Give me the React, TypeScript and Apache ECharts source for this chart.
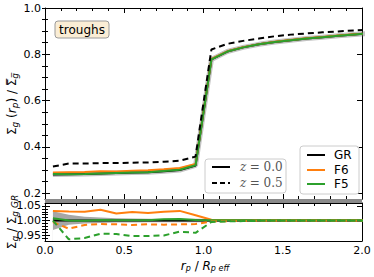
import React, { useEffect, useRef } from "react";
import * as echarts from "echarts";

const xs = [0.05, 0.15, 0.25, 0.35, 0.45, 0.55, 0.65, 0.75, 0.85, 0.95, 1.05, 1.15, 1.25, 1.35, 1.45, 1.55, 1.65, 1.75, 1.85, 1.95, 2.05];

// top panel: Sigma_g(r_p)/mean Sigma_g
const grZ0 = [0.281, 0.282, 0.283, 0.285, 0.287, 0.289, 0.291, 0.295, 0.300, 0.320, 0.778, 0.812, 0.830, 0.843, 0.853, 0.861, 0.868, 0.874, 0.880, 0.886, 0.890];
const f6Z0 = [0.290, 0.291, 0.292, 0.295, 0.294, 0.297, 0.299, 0.303, 0.309, 0.326, 0.780, 0.813, 0.831, 0.844, 0.854, 0.862, 0.869, 0.875, 0.881, 0.887, 0.891];
const f5Z0 = [0.283, 0.282, 0.283, 0.285, 0.287, 0.289, 0.291, 0.296, 0.301, 0.321, 0.778, 0.812, 0.830, 0.843, 0.853, 0.861, 0.868, 0.874, 0.880, 0.886, 0.890];
const grZ05 = [0.315, 0.328, 0.328, 0.330, 0.330, 0.332, 0.333, 0.336, 0.340, 0.358, 0.821, 0.845, 0.858, 0.868, 0.878, 0.885, 0.890, 0.895, 0.899, 0.903, 0.906];

// bottom panel: ratio to GR
const grRatio = [1, 1, 1, 1, 1, 1, 1, 1, 1, 1, 1, 1, 1, 1, 1, 1, 1, 1, 1, 1, 1];
const grBandLow = [0.968, 0.986, 0.990, 0.992, 0.993, 0.993, 0.994, 0.994, 0.994, 0.994, 0.995, 0.995, 0.995, 0.995, 0.995, 0.995, 0.995, 0.995, 0.995, 0.995, 0.995];
const grBandHigh = [1.032, 1.020, 1.013, 1.010, 1.008, 1.007, 1.006, 1.006, 1.006, 1.006, 1.005, 1.005, 1.005, 1.005, 1.005, 1.005, 1.005, 1.005, 1.005, 1.005, 1.005];
const f6RatioZ0 = [1.033, 1.031, 1.030, 1.037, 1.024, 1.029, 1.026, 1.030, 1.033, 1.018, 1.003, 1.002, 1.001, 1.001, 1.001, 1.001, 1.001, 1.001, 1.001, 1.001, 1.001];
const f6RatioZ05 = [0.995, 0.972, 0.985, 0.988, 0.987, 0.985, 0.987, 0.986, 0.987, 0.988, 0.997, 0.998, 0.998, 0.999, 0.999, 0.999, 0.999, 0.999, 0.999, 0.999, 0.999];
const f5RatioZ0 = [1.008, 1.000, 0.999, 1.002, 1.001, 1.001, 1.001, 1.004, 1.005, 1.002, 1.001, 1.001, 1.001, 1.001, 1.001, 1.001, 1.001, 1.001, 1.001, 1.001, 1.001];
const f5RatioZ05 = [1.000, 0.936, 0.940, 0.955, 0.954, 0.947, 0.947, 0.949, 0.962, 0.958, 0.995, 0.997, 0.998, 0.999, 0.999, 0.999, 0.999, 0.999, 0.999, 0.999, 0.999];

const topTicks = [0.2, 0.4, 0.6, 0.8, 1.0];
const topMinor = [0.2, 0.25, 0.3, 0.35, 0.4, 0.45, 0.5, 0.55, 0.6, 0.65, 0.7, 0.75, 0.8, 0.85, 0.9, 0.95, 1.0];
const botTicks = [0.95, 1.0, 1.05];
const botMinor = [0.94, 0.95, 0.96, 0.97, 0.98, 0.99, 1.0, 1.01, 1.02, 1.03, 1.04, 1.05];

const BLACK = "#000000";
const ORANGE = "#ff7f0e";
const GREEN = "#2ca02c";
const FONT = "DejaVu Sans";

const pts = (ys: number[]) => xs.map((x, i) => [x, ys[i]]);

function xAxis(gridIndex: number, position: string, showLabel: boolean) {
  return {
    type: "value",
    gridIndex,
    position,
    min: 0,
    max: 2,
    interval: 0.5,
    axisLine: { show: true, onZero: false, lineStyle: { color: BLACK, width: 1 } },
    axisTick: { show: true, inside: true, length: 5, lineStyle: { color: BLACK, width: 1 } },
    minorTick: { show: true, splitNumber: 5, length: 3, lineStyle: { color: BLACK, width: 1 } },
    splitLine: { show: false },
    axisLabel: {
      show: showLabel,
      margin: 4,
      fontFamily: FONT,
      fontSize: 11,
      color: BLACK,
      formatter: (v: number) => v.toFixed(1),
    },
  };
}

function yAxes(gridIndex: number, min: number, max: number, majors: number[], minors: number[], digits: number, rightMinorLen: number) {
  const base = {
    type: "value",
    gridIndex,
    min,
    max,
    splitLine: { show: false },
  };
  return [
    {
      ...base,
      position: "left",
      axisLine: { show: true, onZero: false, lineStyle: { color: BLACK, width: 1 } },
      axisTick: { show: true, inside: true, length: 5, customValues: majors, lineStyle: { color: BLACK } },
      axisLabel: {
        show: true,
        customValues: majors,
        margin: 4,
        fontFamily: FONT,
        fontSize: 11,
        color: BLACK,
        formatter: (v: number) => v.toFixed(digits),
      },
    },
    {
      ...base,
      position: "left",
      axisLine: { show: false },
      axisTick: { show: true, inside: true, length: 3, customValues: minors, lineStyle: { color: BLACK } },
      axisLabel: { show: false },
    },
    {
      ...base,
      position: "right",
      axisLine: { show: true, onZero: false, lineStyle: { color: BLACK, width: 1 } },
      axisTick: { show: true, inside: true, length: 5, customValues: majors, lineStyle: { color: BLACK } },
      axisLabel: { show: false },
    },
    {
      ...base,
      position: "right",
      axisLine: { show: false },
      axisTick: { show: true, inside: true, length: rightMinorLen, customValues: minors, lineStyle: { color: BLACK } },
      axisLabel: { show: false },
    },
  ];
}

function line(name: string, data: number[], color: string, xi: number, yi: number, dashed: boolean, width = 2, z = 2) {
  return {
    name,
    type: "line",
    xAxisIndex: xi,
    yAxisIndex: yi,
    data: pts(data),
    symbol: "none",
    z,
    lineStyle: { color, width, type: dashed ? [6, 4] : "solid" },
  };
}

export default function App() {
  const ref = useRef<HTMLDivElement>(null);
  useEffect(() => {
    if (!ref.current) return;
    const chart = echarts.init(ref.current, undefined, { renderer: "svg" });
    const option = {
      animation: false,
      backgroundColor: "#ffffff",
      grid: [
        { left: 45, top: 8, width: 317, height: 191 },
        { left: 45, top: 203, width: 317, height: 38 },
      ],
      xAxis: [
        xAxis(0, "bottom", false),
        xAxis(0, "top", false),
        xAxis(1, "bottom", true),
        xAxis(1, "top", false),
      ],
      yAxis: [
        ...yAxes(0, 0.175, 1.0, topTicks, topMinor, 1, 3),
        ...yAxes(1, 0.93, 1.06, botTicks, botMinor, 2, 3),
      ],
      series: [
        // top panel
        { ...line("GR band", grZ0, "rgba(120,120,120,0.45)", 0, 0, false, 5, 1) },
        line("GR z=0.0", grZ0, BLACK, 0, 0, false, 2, 2),
        line("F6 z=0.0", f6Z0, ORANGE, 0, 0, false, 2, 3),
        line("F5 z=0.0", f5Z0, GREEN, 0, 0, false, 2, 4),
        line("GR z=0.5", grZ05, BLACK, 0, 0, true, 2, 5),
        // bottom panel band: gray down from the upper edge, white down from the lower edge
        {
          name: "band high",
          type: "line",
          xAxisIndex: 2,
          yAxisIndex: 4,
          data: pts(grBandHigh),
          symbol: "none",
          lineStyle: { width: 0, opacity: 0 },
          areaStyle: { color: "#a6a6a6", opacity: 1, origin: "start" },
          z: 1,
        },
        {
          name: "band low",
          type: "line",
          xAxisIndex: 2,
          yAxisIndex: 4,
          data: pts(grBandLow),
          symbol: "none",
          lineStyle: { width: 0, opacity: 0 },
          areaStyle: { color: "#ffffff", opacity: 1, origin: "start" },
          z: 1.5,
        },
        line("GR ratio", grRatio, BLACK, 2, 4, false, 2, 2),
        line("F6 ratio z=0.0", f6RatioZ0, ORANGE, 2, 4, false, 2, 3),
        line("F5 ratio z=0.0", f5RatioZ0, GREEN, 2, 4, false, 2, 4),
        line("F6 ratio z=0.5", f6RatioZ05, ORANGE, 2, 4, true, 2, 5),
        line("F5 ratio z=0.5", f5RatioZ05, GREEN, 2, 4, true, 2, 6),
      ],
      graphic: [
        // strip between panels
        { type: "rect", shape: { x: 45, y: 199, width: 317, height: 4 }, style: { fill: "#8a8a8a" }, z: 10 },
        // troughs box
        {
          type: "rect",
          shape: { x: 55, y: 21, width: 54, height: 17, r: 3 },
          style: { fill: "rgba(245,222,179,0.55)", stroke: "#9a9a9a", lineWidth: 1 },
          z: 20,
        },
        {
          type: "text",
          x: 82,
          y: 29.5,
          style: { text: "troughs", fontFamily: FONT, fontSize: 12, fill: "#000", align: "center", verticalAlign: "middle" },
          z: 21,
        },
        // redshift legend
        {
          type: "rect",
          shape: { x: 205, y: 159, width: 81, height: 34, r: 3 },
          style: { fill: "rgba(255,255,255,0.85)", stroke: "#cccccc", lineWidth: 1 },
          z: 20,
        },
        { type: "line", shape: { x1: 212, y1: 167, x2: 230, y2: 167 }, style: { stroke: BLACK, lineWidth: 2 }, z: 21 },
        { type: "line", shape: { x1: 212, y1: 183, x2: 230, y2: 183 }, style: { stroke: BLACK, lineWidth: 2, lineDash: [5, 3] }, z: 21 },
        {
          type: "text",
          x: 240,
          y: 167,
          style: {
            text: "{i|z} {n|= 0.0}",
            verticalAlign: "middle",
            rich: {
              i: { fontFamily: "DejaVu Serif", fontStyle: "italic", fontSize: 12, fill: "#555" },
              n: { fontFamily: "DejaVu Serif", fontSize: 12, fill: "#555" },
            },
          },
          z: 21,
        },
        {
          type: "text",
          x: 240,
          y: 183,
          style: {
            text: "{i|z} {n|= 0.5}",
            verticalAlign: "middle",
            rich: {
              i: { fontFamily: "DejaVu Serif", fontStyle: "italic", fontSize: 12, fill: "#555" },
              n: { fontFamily: "DejaVu Serif", fontSize: 12, fill: "#555" },
            },
          },
          z: 21,
        },
        // model legend
        {
          type: "rect",
          shape: { x: 300, y: 146, width: 59, height: 48, r: 3 },
          style: { fill: "rgba(255,255,255,0.85)", stroke: "#cccccc", lineWidth: 1 },
          z: 20,
        },
        { type: "line", shape: { x1: 307, y1: 155, x2: 325, y2: 155 }, style: { stroke: BLACK, lineWidth: 2 }, z: 21 },
        { type: "line", shape: { x1: 307, y1: 170, x2: 325, y2: 170 }, style: { stroke: ORANGE, lineWidth: 2 }, z: 21 },
        { type: "line", shape: { x1: 307, y1: 184, x2: 325, y2: 184 }, style: { stroke: GREEN, lineWidth: 2 }, z: 21 },
        { type: "text", x: 334, y: 155, style: { text: "GR", fontFamily: FONT, fontSize: 12, fill: "#000", verticalAlign: "middle" }, z: 21 },
        { type: "text", x: 334, y: 170, style: { text: "F6", fontFamily: FONT, fontSize: 12, fill: "#000", verticalAlign: "middle" }, z: 21 },
        { type: "text", x: 334, y: 184, style: { text: "F5", fontFamily: FONT, fontSize: 12, fill: "#000", verticalAlign: "middle" }, z: 21 },
        // y label top
        {
          type: "text",
          x: 12,
          y: 104,
          rotation: Math.PI / 2,
          style: {
            text: "{m|Σ}{s|g}{m| (}{i|r}{s|p}{m|) / }{m|Σ̅}{s|g̅}",
            align: "center",
            verticalAlign: "middle",
            rich: {
              m: { fontFamily: FONT, fontSize: 12, fill: "#000", lineHeight: 15 },
              i: { fontFamily: FONT, fontStyle: "italic", fontSize: 12, fill: "#000", lineHeight: 15 },
              s: { fontFamily: FONT, fontStyle: "italic", fontSize: 9, fill: "#000", lineHeight: 15, padding: [5, 0, 0, 0] },
            },
          },
          z: 21,
        },
        // y label bottom
        {
          type: "text",
          x: 12,
          y: 222,
          rotation: Math.PI / 2,
          style: {
            text: "{m|Σ}{s|g}{m| / Σ}{s|g GR}",
            align: "center",
            verticalAlign: "middle",
            rich: {
              m: { fontFamily: FONT, fontSize: 12, fill: "#000", lineHeight: 15 },
              s: { fontFamily: FONT, fontStyle: "italic", fontSize: 9, fill: "#000", lineHeight: 15, padding: [5, 0, 0, 0] },
            },
          },
          z: 21,
        },
        // x label
        {
          type: "text",
          x: 205,
          y: 266,
          style: {
            text: "{i|r}{s|p}{m| / }{i|R}{s|p eff}",
            align: "center",
            verticalAlign: "middle",
            rich: {
              m: { fontFamily: FONT, fontSize: 12, fill: "#000", lineHeight: 15 },
              i: { fontFamily: FONT, fontStyle: "italic", fontSize: 12, fill: "#000", lineHeight: 15 },
              s: { fontFamily: FONT, fontStyle: "italic", fontSize: 8, fill: "#000", lineHeight: 15, padding: [5, 0, 0, 0] },
            },
          },
          z: 21,
        },
      ],
    };
    chart.setOption(option as any);
    return () => chart.dispose();
  }, []);
  return (
    <div
      ref={ref}
      style={{ position: "absolute", left: 0, top: 0, width: 374, height: 277, background: "#fff" }}
    />
  );
}
